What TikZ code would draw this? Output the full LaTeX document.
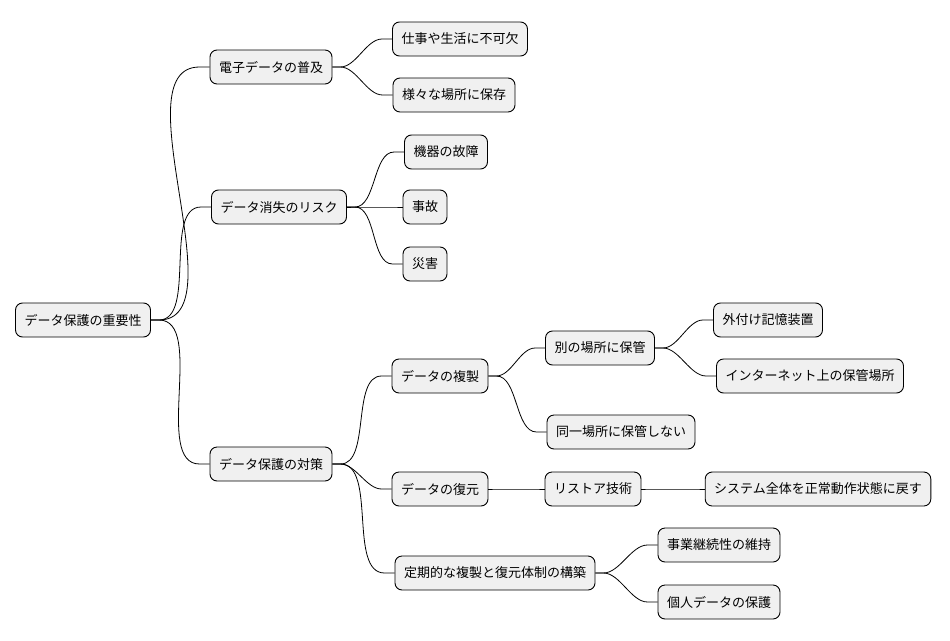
\documentclass[tikz,border=0pt]{standalone}
\usepackage{fontspec}
\setmainfont{Noto Sans CJK JP}
\usetikzlibrary{calc}
\begin{document}
\begin{tikzpicture}[x=1pt,y=-1pt,
	box/.style = {draw, rounded corners=7pt, fill=black!6, line width=0.9pt,
		minimum height=34pt, inner xsep=9pt, font=\fontsize{13}{15}\selectfont},
	link/.style = {line width=0.8pt}]
	
	\useasboundingbox (0,0) rectangle (950,640);
	
	% Root
	\node[box] (root) at (83,320) {データ保護の重要性};
	
	% First level
	\node[box] (spread) at (271,67) {電子データの普及};
	\node[box] (risk) at (279,207) {データ消失のリスク};
	\node[box] (measure) at (271,464) {データ保護の対策};
	
	% Spread
	\node[box] (work) at (460,39) {仕事や生活に不可欠};
	\node[box] (places) at (454,95) {様々な場所に保存};
	
	% Risk
	\node[box] (fail) at (446,152) {機器の故障};
	\node[box] (accident) at (425,207) {事故};
	\node[box] (disaster) at (425,264) {災害};
	
	% Measures
	\node[box] (copy) at (440,376) {データの複製};
	\node[box] (restore) at (440,489) {データの復元};
	\node[box] (regular) at (495,573) {定期的な複製と復元体制の構築};
	
	\node[box] (other) at (600,348) {別の場所に保管};
	\node[box] (notsame) at (621,432) {同一場所に保管しない};
	\node[box] (tech) at (593,489) {リストア技術};
	\node[box] (bcp) at (719,545) {事業継続性の維持};
	\node[box] (personal) at (719,602) {個人データの保護};
	
	\node[box] (ext) at (768,320) {外付け記憶装置};
	\node[box] (net) at (810,376) {インターネット上の保管場所};
	\node[box] (normal) at (818,489) {システム全体を正常動作状態に戻す};
	
	% Connectors
	\foreach \p/\c in {root/spread, root/risk, root/measure,
		spread/work, spread/places,
		risk/fail, risk/accident, risk/disaster,
		measure/copy, measure/restore, measure/regular,
		copy/other, copy/notsame, restore/tech,
		regular/bcp, regular/personal,
		other/ext, other/net, tech/normal}
		\draw[link] (\p.east) -- ++(8,0) to[out=0,in=180,looseness=0.8] ($(\c.west)-(10,0)$) -- (\c.west);
	
\end{tikzpicture}
\end{document}
